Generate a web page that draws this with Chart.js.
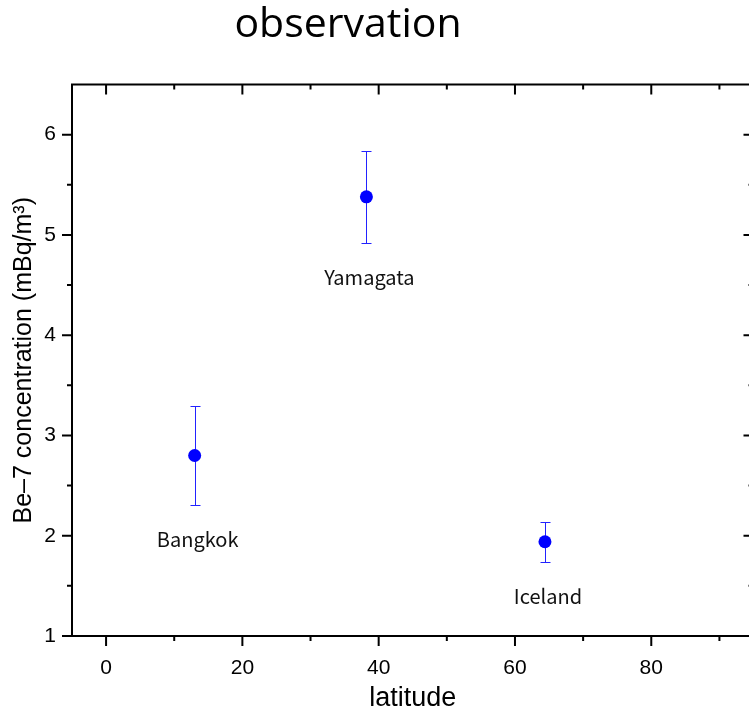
<!DOCTYPE html>
<html>
<head>
<meta charset="utf-8">
<script src="https://cdn.jsdelivr.net/npm/chart.js@4/dist/chart.umd.min.js"></script>
<style>
  html, body { margin: 0; padding: 0; background: #ffffff; overflow: hidden; }
  #wrap { width: 749px; height: 715px; overflow: hidden; position: relative; }
  canvas { display: block; }
</style>
</head>
<body>
<div id="wrap"><canvas id="c" width="760" height="715"></canvas></div>
<script>
// ---- data ----
const chartTitle = 'observation';
const siteNames = ['Bangkok', 'Yamagata', 'Iceland'];
const latitude = [13.0, 38.2, 64.4];
const concentration = [2.80, 5.38, 1.94];
const errorBar = [0.49, 0.46, 0.20];
const xTickValues = [0, 20, 40, 60, 80];
const xMinorTicks = [10, 30, 50, 70, 90];
const yTickValues = [1, 2, 3, 4, 5, 6];
const yMinorTicks = [1.5, 2.5, 3.5, 4.5, 5.5];
const xRange = [-5, 95];
const yRange = [1, 6.5];
const xAxisTitle = 'latitude';
const yAxisTitle = 'Be\u20137 concentration (mBq/m\u00B3)';

const points = latitude.map((x, i) => ({ x: x, y: concentration[i] }));

const errorBarPlugin = {
  id: 'errorBars',
  beforeDatasetsDraw(chart) {
    const ctx = chart.ctx;
    const xs = chart.scales.x, ys = chart.scales.y;
    ctx.save();
    ctx.strokeStyle = '#2222ff';
    ctx.lineWidth = 1;
    points.forEach((p, i) => {
      const px = Math.round(xs.getPixelForValue(p.x)) + 0.5;
      const top = Math.round(ys.getPixelForValue(p.y + errorBar[i])) + 0.5;
      const bot = Math.round(ys.getPixelForValue(p.y - errorBar[i])) + 0.5;
      ctx.beginPath();
      ctx.moveTo(px, top); ctx.lineTo(px, bot);
      ctx.moveTo(px - 5, top); ctx.lineTo(px + 5, top);
      ctx.moveTo(px - 5, bot); ctx.lineTo(px + 5, bot);
      ctx.stroke();
    });
    ctx.restore();
  }
};

const framePlugin = {
  id: 'frame',
  afterDraw(chart) {
    const ctx = chart.ctx;
    const a = chart.chartArea;
    const xs = chart.scales.x, ys = chart.scales.y;
    ctx.save();
    ctx.strokeStyle = '#000000';
    ctx.lineWidth = 2;
    ctx.strokeRect(a.left, a.top, a.right - a.left, a.bottom - a.top);
    ctx.beginPath();
    const xt = (v, len) => {
      const px = xs.getPixelForValue(v);
      ctx.moveTo(px, a.bottom); ctx.lineTo(px, a.bottom + len);
      ctx.moveTo(px, a.top); ctx.lineTo(px, a.top + len);
    };
    const yt = (v, len) => {
      const py = ys.getPixelForValue(v);
      ctx.moveTo(a.left, py); ctx.lineTo(a.left - len, py);
      ctx.moveTo(a.right, py); ctx.lineTo(a.right - len, py);
    };
    xTickValues.forEach(v => xt(v, 10));
    xMinorTicks.forEach(v => xt(v, 5));
    yTickValues.forEach(v => yt(v, 10));
    yMinorTicks.forEach(v => yt(v, 5));
    ctx.stroke();

    // site labels below each error bar
    ctx.fillStyle = '#111111';
    ctx.font = '20px "Noto Sans CJK JP", "DejaVu Sans", sans-serif';
    ctx.textAlign = 'center';
    ctx.textBaseline = 'alphabetic';
    points.forEach((p, i) => {
      const px = xs.getPixelForValue(p.x) + 3;
      const bot = ys.getPixelForValue(p.y - errorBar[i]);
      ctx.fillText(siteNames[i], px, bot + 42);
    });

    // title
    ctx.fillStyle = '#000000';
    ctx.font = '41px "Open Sans", "Noto Sans", sans-serif';
    ctx.textAlign = 'center';
    ctx.fillText(chartTitle, 348, 37);
    ctx.restore();
  }
};

new Chart(document.getElementById('c'), {
  type: 'scatter',
  data: {
    datasets: [{
      data: points,
      backgroundColor: '#0000ff',
      borderColor: '#0000ff',
      pointRadius: 6.5,
      pointHoverRadius: 6.5,
      borderWidth: 0
    }]
  },
  options: {
    responsive: false,
    animation: false,
    devicePixelRatio: 1,
    layout: { padding: { top: 84.5, right: 5, left: 0, bottom: 0 } },
    plugins: { legend: { display: false }, tooltip: { enabled: false }, title: { display: false } },
    scales: {
      x: {
        type: 'linear',
        min: xRange[0], max: xRange[1],
        afterBuildTicks(scale) { scale.ticks = xTickValues.map(v => ({ value: v })); },
        afterFit(scale) { scale.height = 79; },
        grid: { display: false, drawTicks: false, tickLength: 0 },
        border: { display: false },
        ticks: { color: '#000000', padding: 20, font: { family: '"Liberation Sans", Arial, sans-serif', size: 21 } },
        title: { display: true, text: xAxisTitle, color: '#000000', padding: { top: 0, bottom: 0 },
                 font: { family: '"Liberation Sans", Arial, sans-serif', size: 27 } }
      },
      y: {
        type: 'linear',
        min: yRange[0], max: yRange[1],
        afterBuildTicks(scale) { scale.ticks = yTickValues.map(v => ({ value: v })); },
        afterFit(scale) { scale.width = 72; },
        grid: { display: false, drawTicks: false, tickLength: 0 },
        border: { display: false },
        ticks: { color: '#000000', padding: 16, font: { family: '"Liberation Sans", Arial, sans-serif', size: 21 } },
        title: { display: true, text: yAxisTitle, color: '#000000', padding: { top: 9, bottom: 0 },
                 font: { family: '"Liberation Sans", Arial, sans-serif', size: 25 } }
      }
    }
  },
  plugins: [errorBarPlugin, framePlugin]
});
</script>
</body>
</html>
